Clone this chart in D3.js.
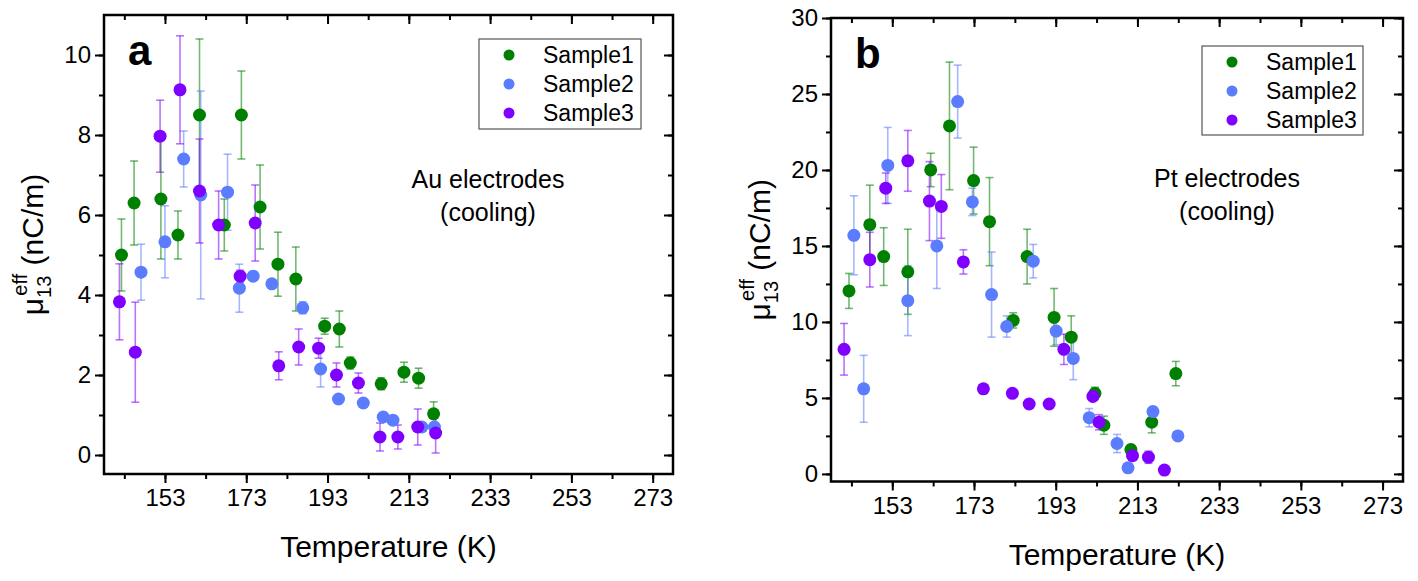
<!DOCTYPE html>
<html>
<head>
<meta charset="utf-8">
<script src="https://cdn.jsdelivr.net/npm/d3@7"></script>
<style>
  body { margin: 0; background: #fff; }
  text { font-family: "Liberation Sans", Arial, sans-serif; fill: #000; }
</style>
</head>
<body>
<svg id="chart" width="1418" height="581"></svg>
<script>
// ---------- data: [temperature K, value, error] ----------
const seriesNames = ['Sample1', 'Sample2', 'Sample3'];
const seriesColors = ['#008000', '#5b7cff', '#8000ff'];

const auSample1 = [[142.3,5.0,0.9],[145.4,6.3,1.05],[152.0,6.4,1.5],[156.2,5.5,0.6],[161.5,8.5,1.9],[167.6,5.75,0.65],
  [171.8,8.5,1.1],[176.4,6.2,1.05],[180.8,4.77,0.8],[185.2,4.4,0.8],[192.3,3.22,0.2],[195.9,3.15,0.45],
  [198.6,2.3,0.15],[206.2,1.78,0.15],[211.8,2.07,0.25],[215.4,1.92,0.25],[219.1,1.03,0.3]];
const auSample2 = [[147.1,4.57,0.7],[153.0,5.33,0.9],[157.6,7.4,0.7],[161.8,6.5,2.6],[168.4,6.57,0.95],[171.3,4.17,0.6],
  [174.7,4.47,0.1],[179.3,4.28,0.1],[186.9,3.68,0.15],[191.3,2.15,0.45],[195.7,1.4,0],[201.8,1.3,0],
  [206.7,0.95,0.1],[209.1,0.87,0],[216.2,0.7,0.1],[219.3,0.7,0.1]];
const auSample3 = [[141.8,3.83,0.95],[145.7,2.57,1.25],[151.8,7.97,0.9],[156.7,9.13,1.35],[161.5,6.6,1.3],[166.2,5.75,0.85],
  [171.5,4.47,0.15],[175.2,5.8,0.95],[181.0,2.23,0.35],[185.9,2.7,0.45],[190.8,2.67,0.25],[195.2,2.0,0.3],
  [200.6,1.8,0.25],[205.9,0.45,0.35],[210.3,0.45,0.3],[215.2,0.7,0.45],[219.6,0.55,0.5]];

const ptSample1 = [[142.4,12.04,1.15],[147.5,16.4,2.6],[150.9,14.3,1.9],[156.8,13.3,2.8],[162.4,20.0,1.1],[167.0,22.9,4.2],
  [172.9,19.3,2.2],[176.8,16.6,2.9],[182.6,10.1,0.5],[186.0,14.3,1.8],[192.6,10.3,1.9],[196.8,9.0,1.4],
  [202.6,5.3,0.4],[204.8,3.2,0.6],[211.4,1.6,0.3],[216.5,3.4,0.7],[222.4,6.6,0.8]];
const ptSample2 = [[143.6,15.7,2.6],[146.0,5.6,2.2],[151.9,20.3,2.5],[156.8,11.4,2.3],[163.9,15.0,2.8],[169.0,24.5,2.4],
  [172.6,17.9,0.9],[177.3,11.8,2.8],[181.0,9.7,0.7],[187.5,14.0,1.1],[193.1,9.4,0.9],[197.3,7.6,1.4],
  [201.2,3.7,0.6],[208.0,2.0,0.6],[210.7,0.4,0],[216.8,4.1,0.3],[222.9,2.5,0]];
const ptSample3 = [[141.2,8.2,1.7],[147.5,14.1,1.8],[151.4,18.8,1.0],[156.8,20.6,2.0],[162.1,17.95,2.6],[165.0,17.6,2.1],
  [170.4,13.95,0.8],[175.3,5.6,0],[182.4,5.3,0],[186.5,4.6,0.2],[191.4,4.6,0],[195.0,8.2,1.0],
  [202.1,5.1,0],[203.6,3.4,0.5],[211.8,1.2,0],[215.7,1.1,0.4],[219.6,0.25,0]];

const xTicks = [153, 173, 193, 213, 233, 253, 273];

const panels = [
  { letter: 'a', note: ['Au electrodes', '(cooling)'], series: [auSample1, auSample2, auSample3],
    x0: 104, x1: 673, y0: 474, y1: 15, yDomain: [-0.475, 11], yMajor: d3.range(0, 11, 2), yMinor: d3.range(0, 11, 1),
    noteX: 488, noteY: 188, legend: { x: 479, y: 39, w: 162, h: 90 }, ylabX: 43 },
  { letter: 'b', note: ['Pt electrodes', '(cooling)'], series: [ptSample1, ptSample2, ptSample3],
    x0: 831, x1: 1403, y0: 481.5, y1: 18, yDomain: [-0.5, 30], yMajor: d3.range(0, 31, 5), yMinor: d3.range(0, 31, 2.5),
    noteX: 1227, noteY: 187, legend: { x: 1202, y: 46, w: 161, h: 89 }, ylabX: 770 }
];

const svg = d3.select('#chart');

panels.forEach(p => {
  const x = d3.scaleLinear().domain([138, 278]).range([p.x0, p.x1]);
  const y = d3.scaleLinear().domain(p.yDomain).range([p.y0, p.y1]);
  const g = svg.append('g');
  const xMinor = d3.range(143, 278, 10);

  // axes: bottom/left outward with labels, top/right inward
  const bottom = g.append('g').attr('transform', `translate(0,${p.y0})`)
    .call(d3.axisBottom(x).tickValues(xMinor).tickSize(5).tickFormat(''));
  g.append('g').attr('transform', `translate(0,${p.y0})`)
    .call(d3.axisBottom(x).tickValues(xTicks).tickSize(9).tickPadding(6))
    .selectAll('text').style('font-size', '24px');
  g.append('g').attr('transform', `translate(0,${p.y1})`)
    .call(d3.axisBottom(x).tickValues(xMinor).tickSize(5).tickFormat(''));
  g.append('g').attr('transform', `translate(0,${p.y1})`)
    .call(d3.axisBottom(x).tickValues(xTicks).tickSize(9).tickFormat(''));
  g.append('g').attr('transform', `translate(${p.x0},0)`)
    .call(d3.axisLeft(y).tickValues(p.yMinor).tickSize(5).tickFormat(''));
  g.append('g').attr('transform', `translate(${p.x0},0)`)
    .call(d3.axisLeft(y).tickValues(p.yMajor).tickSize(9).tickPadding(4))
    .selectAll('text').style('font-size', '24px');
  g.append('g').attr('transform', `translate(${p.x1},0)`)
    .call(d3.axisLeft(y).tickValues(p.yMinor).tickSize(5).tickFormat(''));
  g.append('g').attr('transform', `translate(${p.x1},0)`)
    .call(d3.axisLeft(y).tickValues(p.yMajor).tickSize(9).tickFormat(''));
  g.selectAll('.domain').remove();
  g.selectAll('.tick line').attr('stroke', '#000').attr('stroke-width', 2);

  g.append('rect')
    .attr('x', p.x0).attr('y', p.y1)
    .attr('width', p.x1 - p.x0).attr('height', p.y0 - p.y1)
    .attr('fill', 'none').attr('stroke', '#000').attr('stroke-width', 2.5);

  // error bars then points
  p.series.forEach((s, i) => {
    const c = seriesColors[i];
    const eb = g.append('g').attr('stroke', c).attr('stroke-opacity', 0.55).attr('stroke-width', 1.6);
    s.filter(d => d[2] > 0).forEach(d => {
      const cx = x(d[0]), ya = y(d[1] + d[2]), yb = y(d[1] - d[2]);
      eb.append('line').attr('x1', cx).attr('x2', cx).attr('y1', ya).attr('y2', yb);
      eb.append('line').attr('x1', cx - 4).attr('x2', cx + 4).attr('y1', ya).attr('y2', ya);
      eb.append('line').attr('x1', cx - 4).attr('x2', cx + 4).attr('y1', yb).attr('y2', yb);
    });
  });
  p.series.forEach((s, i) => {
    g.append('g').selectAll('circle').data(s).enter().append('circle')
      .attr('cx', d => x(d[0])).attr('cy', d => y(d[1]))
      .attr('r', 6.5).attr('fill', seriesColors[i]);
  });

  // legend
  const L = p.legend;
  g.append('rect').attr('x', L.x).attr('y', L.y).attr('width', L.w).attr('height', L.h)
    .attr('fill', '#fff').attr('stroke', '#555').attr('stroke-width', 1.2);
  seriesNames.forEach((n, i) => {
    const ry = L.y + 16 + i * 29;
    g.append('circle').attr('cx', L.x + 30).attr('cy', ry).attr('r', 5.5).attr('fill', seriesColors[i]);
    g.append('text').attr('x', L.x + 64).attr('y', ry + 8).text(n).style('font-size', '23px');
  });

  // panel letter and note
  g.append('text').attr('x', p.x0 + 24).attr('y', p.y1 + 50).text(p.letter)
    .style('font-size', '42px').style('font-weight', 'bold');
  p.note.forEach((t, i) => {
    g.append('text').attr('x', p.noteX).attr('y', p.noteY + i * 33).attr('text-anchor', 'middle')
      .text(t).style('font-size', '25px');
  });

  // axis titles
  g.append('text').attr('x', (p.x0 + p.x1) / 2).attr('y', p.y0 + 83).attr('text-anchor', 'middle')
    .text('Temperature (K)').style('font-size', '30px');
  const yl = g.append('text')
    .attr('transform', `translate(${p.ylabX},${(p.y0 + p.y1) / 2}) rotate(-90)`)
    .attr('text-anchor', 'middle').style('font-size', '30px');
  yl.append('tspan').text('μ');
  yl.append('tspan').attr('dy', 8).style('font-size', '20px').text('13');
  yl.append('tspan').attr('dx', -20).attr('dy', -24).style('font-size', '20px').text('eff');
  yl.append('tspan').attr('dy', 16).text(' (nC/m)');
});
</script>
</body>
</html>
